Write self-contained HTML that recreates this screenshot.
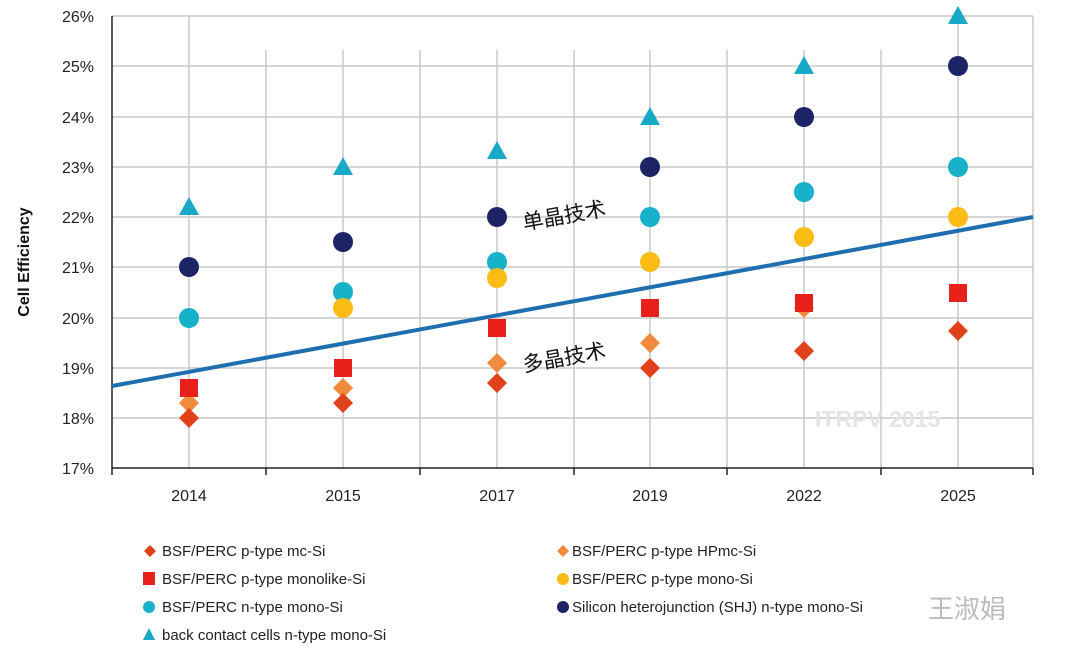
<!DOCTYPE html><html><head><meta charset="utf-8"><style>body{margin:0;background:#fff}svg{display:block}</style></head><body>
<svg width="1066" height="662" xmlns="http://www.w3.org/2000/svg" font-family="Liberation Sans, sans-serif">
<g stroke="#c8c8c8" stroke-width="1.5">
<line x1="112" y1="16" x2="1033" y2="16"/><line x1="112" y1="66" x2="1033" y2="66"/><line x1="112" y1="117" x2="1033" y2="117"/><line x1="112" y1="167" x2="1033" y2="167"/><line x1="112" y1="217" x2="1033" y2="217"/><line x1="112" y1="267" x2="1033" y2="267"/><line x1="112" y1="318" x2="1033" y2="318"/><line x1="112" y1="368" x2="1033" y2="368"/><line x1="112" y1="418" x2="1033" y2="418"/>
<line x1="189" y1="16" x2="189" y2="468"/><line x1="266" y1="50" x2="266" y2="468"/><line x1="343" y1="50" x2="343" y2="468"/><line x1="420" y1="50" x2="420" y2="468"/><line x1="497" y1="50" x2="497" y2="468"/><line x1="574" y1="50" x2="574" y2="468"/><line x1="650" y1="50" x2="650" y2="468"/><line x1="727" y1="50" x2="727" y2="468"/><line x1="804" y1="50" x2="804" y2="468"/><line x1="881" y1="50" x2="881" y2="468"/><line x1="958" y1="16" x2="958" y2="468"/><line x1="1033" y1="16" x2="1033" y2="468"/>
</g>
<g stroke="#222" stroke-width="1.5"><line x1="112" y1="16" x2="112" y2="475"/><line x1="112" y1="468" x2="1033" y2="468"/>
<line x1="266" y1="468" x2="266" y2="475"/><line x1="420" y1="468" x2="420" y2="475"/><line x1="574" y1="468" x2="574" y2="475"/><line x1="727" y1="468" x2="727" y2="475"/><line x1="881" y1="468" x2="881" y2="475"/><line x1="1033" y1="468" x2="1033" y2="475"/></g>
<g font-size="16" fill="#222" text-anchor="end">
<text x="94" y="22">26%</text><text x="94" y="72">25%</text><text x="94" y="123">24%</text><text x="94" y="173">23%</text><text x="94" y="223">22%</text><text x="94" y="273">21%</text><text x="94" y="324">20%</text><text x="94" y="374">19%</text><text x="94" y="424">18%</text><text x="94" y="474">17%</text></g>
<g font-size="16" fill="#222" text-anchor="middle"><text x="189" y="501">2014</text><text x="343" y="501">2015</text><text x="497" y="501">2017</text><text x="650" y="501">2019</text><text x="804" y="501">2022</text><text x="958" y="501">2025</text></g>
<text transform="translate(29,262) rotate(-90)" font-size="16" font-weight="bold" text-anchor="middle" fill="#111">Cell Efficiency</text>
<text x="815" y="427" font-size="23" font-weight="bold" fill="#e4e4e4">ITRPV 2015</text>
<defs>
<path id="d" d="M0,-10 L10,0 L0,10 L-10,0Z"/>
<path id="t" d="M0,-10 L10,8 L-10,8Z"/>
<rect id="s" x="-9" y="-9" width="18" height="18"/>
</defs>
<g fill="#17a9c6"><use href="#t" x="189" y="207"/><use href="#t" x="343" y="167"/><use href="#t" x="497" y="151"/><use href="#t" x="650" y="117"/><use href="#t" x="804" y="66"/><use href="#t" x="958" y="16"/></g>
<g fill="#1d2466"><circle cx="189" cy="267" r="10"/><circle cx="343" cy="242" r="10"/><circle cx="497" cy="217" r="10"/><circle cx="650" cy="167" r="10"/><circle cx="804" cy="117" r="10"/><circle cx="958" cy="66" r="10"/></g>
<g fill="#17b1ca"><circle cx="189" cy="318" r="10"/><circle cx="343" cy="292" r="10"/><circle cx="497" cy="262" r="10"/><circle cx="650" cy="217" r="10"/><circle cx="804" cy="192" r="10"/><circle cx="958" cy="167" r="10"/></g>
<g fill="#fbbc14"><circle cx="343" cy="308" r="10"/><circle cx="497" cy="278" r="10"/><circle cx="650" cy="262" r="10"/><circle cx="804" cy="237" r="10"/><circle cx="958" cy="217" r="10"/></g>
<g fill="#f08a3c"><use href="#d" x="189" y="403"/><use href="#d" x="343" y="388"/><use href="#d" x="497" y="363"/><use href="#d" x="650" y="343"/><use href="#d" x="804" y="308"/></g>
<g fill="#e8201a"><use href="#s" x="189" y="388"/><use href="#s" x="343" y="368"/><use href="#s" x="497" y="328"/><use href="#s" x="650" y="308"/><use href="#s" x="804" y="303"/><use href="#s" x="958" y="293"/></g>
<g fill="#e0401a"><use href="#d" x="189" y="418"/><use href="#d" x="343" y="403"/><use href="#d" x="497" y="383"/><use href="#d" x="650" y="368"/><use href="#d" x="804" y="351"/><use href="#d" x="958" y="331"/></g>
<line x1="112" y1="386" x2="1033" y2="217" stroke="#1f6fb0" stroke-width="4"/>
<g font-family="Liberation Sans, Noto Sans CJK SC, sans-serif" font-size="21" fill="#111">
<text transform="translate(524,230) rotate(-10)">单晶技术</text>
<text transform="translate(524,372) rotate(-10)">多晶技术</text></g>
<g font-size="15" fill="#222">
<path d="M150,545 L156,551 L150,557 L144,551Z" fill="#e0401a"/><text x="162" y="556">BSF/PERC p-type mc-Si</text>
<rect x="143" y="572" width="12" height="13" fill="#e8201a"/><text x="162" y="584">BSF/PERC p-type monolike-Si</text>
<circle cx="149" cy="607" r="6" fill="#17b1ca"/><text x="162" y="612">BSF/PERC n-type mono-Si</text>
<path d="M149,628 L155,640 L143,640Z" fill="#17a9c6"/><text x="162" y="640">back contact cells n-type mono-Si</text>
<path d="M563,545 L569,551 L563,557 L557,551Z" fill="#f08a3c"/><text x="572" y="556">BSF/PERC p-type HPmc-Si</text>
<circle cx="563" cy="579" r="6" fill="#fbbc14"/><text x="572" y="584">BSF/PERC p-type mono-Si</text>
<circle cx="563" cy="607" r="6" fill="#1d2466"/><text x="572" y="612">Silicon heterojunction (SHJ) n-type mono-Si</text>
</g>
<text x="928" y="618" font-family="Liberation Sans, Noto Sans CJK SC, sans-serif" font-size="26" fill="#bbb">王淑娟</text>
</svg>
</body></html>
